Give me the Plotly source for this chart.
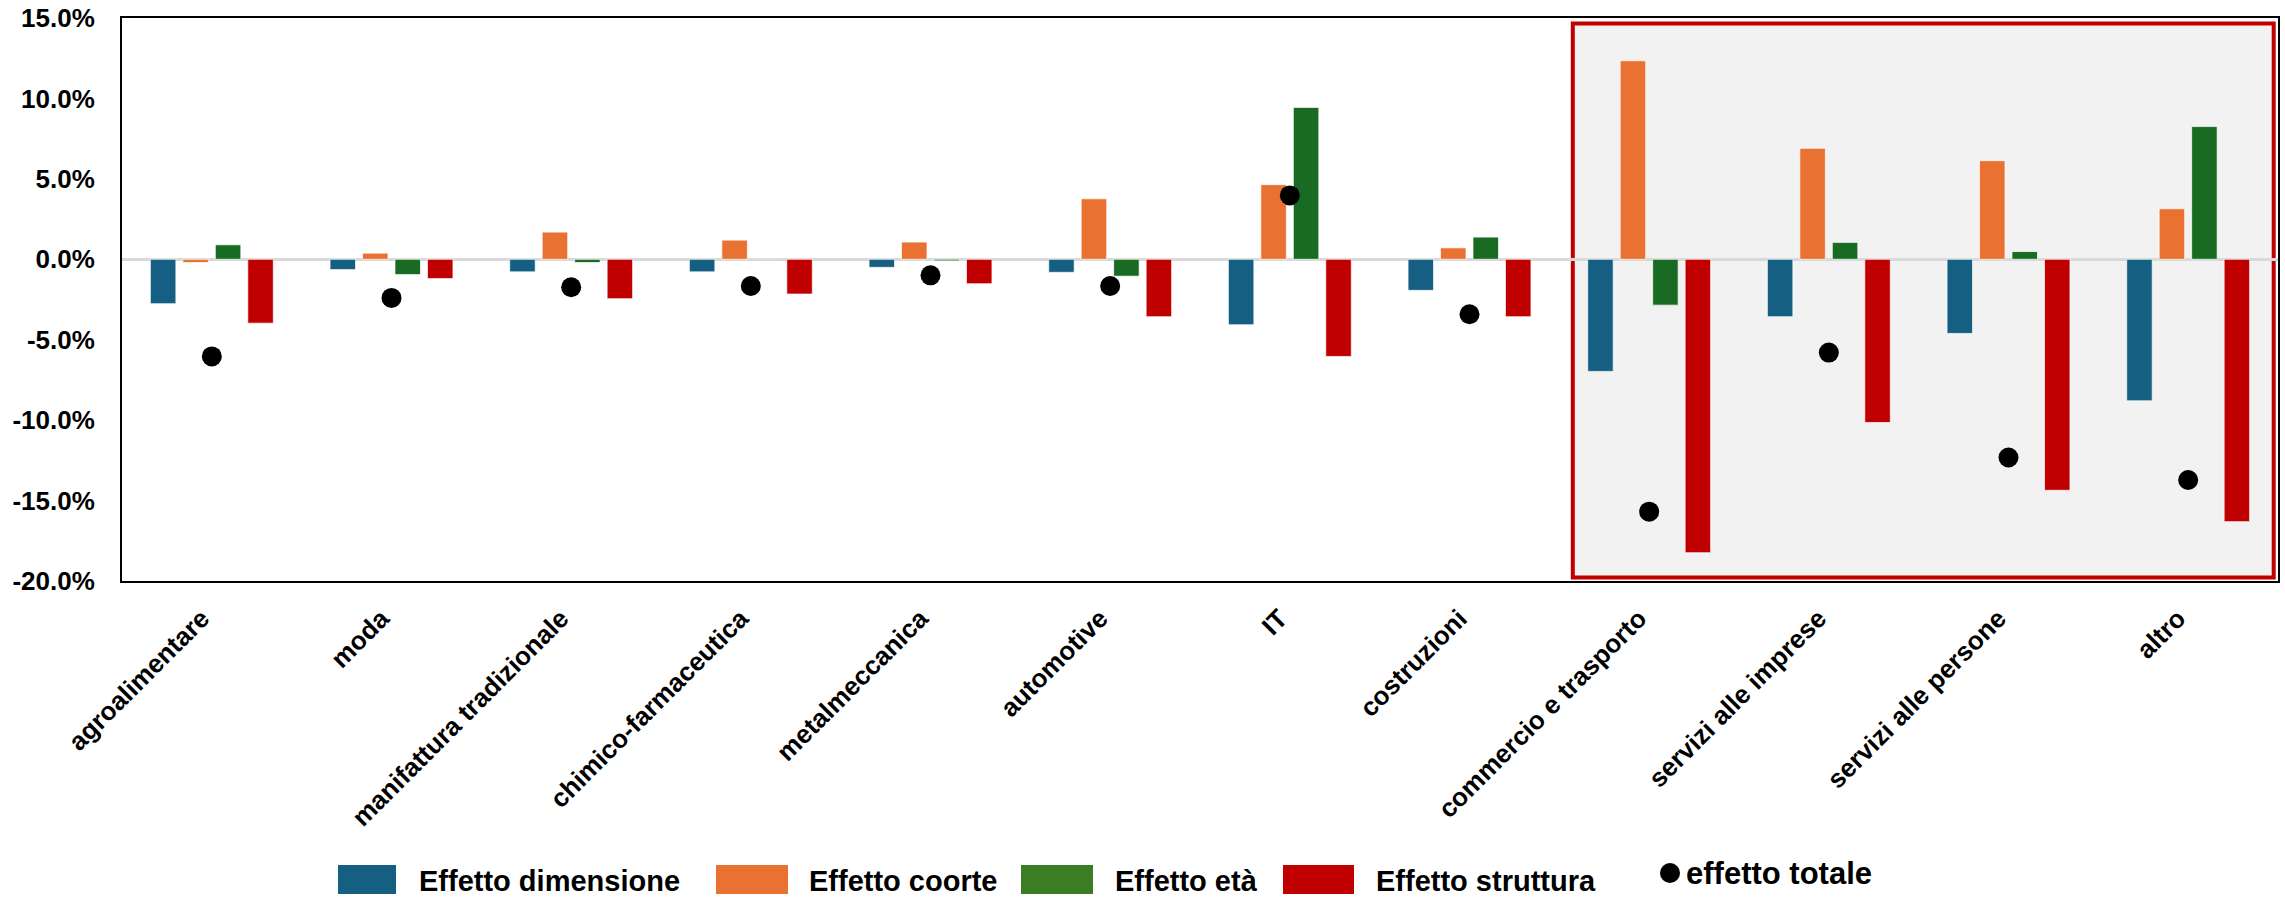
import plotly.graph_objects as go

categories = ["agroalimentare", "moda", "manifattura tradizionale", "chimico-farmaceutica",
              "metalmeccanica", "automotive", "IT", "costruzioni", "commercio e trasporto",
              "servizi alle imprese", "servizi alle persone", "altro"]
effetto_dimensione = [-2.76, -0.64, -0.78, -0.78, -0.50, -0.81, -4.07, -1.93, -6.97, -3.57, -4.61, -8.80]
effetto_coorte = [-0.20, 0.38, 1.69, 1.19, 1.07, 3.76, 4.64, 0.71, 12.34, 6.90, 6.13, 3.14]
effetto_eta = [0.90, -0.95, -0.20, 0.05, -0.10, -1.05, 9.44, 1.38, -2.85, 1.05, 0.48, 8.25]
effetto_struttura = [-3.97, -1.20, -2.45, -2.16, -1.52, -3.57, -6.04, -3.57, -18.24, -10.15, -14.36, -16.31]
effetto_totale = [-6.04, -2.40, -1.74, -1.66, -1.00, -1.66, 3.97, -3.42, -15.69, -5.80, -12.32, -13.72]
y_tickvals = [-20, -15, -10, -5, 0, 5, 10, 15]
y_ticktext = [f"{v:.1f}%" for v in y_tickvals]

series_names = ["Effetto dimensione", "Effetto coorte", "Effetto età", "Effetto struttura"]
series_values = [effetto_dimensione, effetto_coorte, effetto_eta, effetto_struttura]
bar_colors = ["#156082", "#E97132", "#196B24", "#C00000"]
legend_colors = ["#156082", "#E97132", "#3A7D22", "#C00000"]
total_name = "effetto totale"

# page body margin is zeroed by the post script, so figure pixels = page pixels
W, H = 2285, 900
PLOT_L, PLOT_R, PLOT_T, PLOT_B = 122, 2278, 17.5, 581.5
L, T, R, B = PLOT_L, PLOT_T, W - PLOT_R, H - PLOT_B
PW, PH = PLOT_R - PLOT_L, PLOT_B - PLOT_T
FONT = "Liberation Sans, Arial, sans-serif"


def px_x(p):
    return (p - PLOT_L) / PW


def px_y(p):
    return (PLOT_B - p) / PH


fig = go.Figure()
for name, vals, col in zip(series_names, series_values, bar_colors):
    fig.add_trace(go.Bar(x=categories, y=vals, name=name, marker_color=col,
                         marker_line=dict(color="rgba(255,255,255,0.7)", width=1),
                         showlegend=False))
fig.add_trace(go.Scatter(x=categories, y=effetto_totale, name=total_name, mode="markers",
                         marker=dict(color="black", size=20), showlegend=False))

shapes = [
    dict(type="rect", xref="x", yref="paper", x0=7.575, x1=11.476,
         y0=px_y(578), y1=px_y(23), fillcolor="#F2F2F2",
         line=dict(color="#C00000", width=4), layer="below"),
]

# custom legend (page pixel positions)
legend_boxes = [(338, 396), (716, 788), (1021, 1093), (1283, 1354)]
legend_text_x = [417, 807, 1113, 1374]
annotations = []
for (x0, x1), tx, name, col in zip(legend_boxes, legend_text_x, series_names, legend_colors):
    shapes.append(dict(type="rect", xref="paper", yref="paper",
                       x0=px_x(x0), x1=px_x(x1), y0=px_y(895), y1=px_y(866),
                       fillcolor=col, line=dict(width=0)))
    annotations.append(dict(xref="paper", yref="paper", x=px_x(tx), y=px_y(882),
                            text=f"<b>{name}</b>", showarrow=False, xanchor="left",
                            yanchor="middle", font=dict(family=FONT, size=29, color="black")))
shapes.append(dict(type="circle", xref="paper", yref="paper",
                   x0=px_x(1660), x1=px_x(1680), y0=px_y(884), y1=px_y(864),
                   fillcolor="black", line=dict(width=0)))
annotations.append(dict(xref="paper", yref="paper", x=px_x(1684), y=px_y(875),
                        text=f"<b>{total_name}</b>", showarrow=False, xanchor="left",
                        yanchor="middle", font=dict(family=FONT, size=31, color="black")))

fig.update_layout(
    width=W, height=H,
    margin=dict(l=L, r=R, t=T, b=B, autoexpand=False),
    paper_bgcolor="white", plot_bgcolor="white",
    barmode="group", bargap=0.277, bargroupgap=0.215,
    shapes=shapes, annotations=annotations,
    font=dict(family=FONT, color="black"),
    showlegend=False,
)
fig.update_xaxes(
    type="category", range=[-0.5, 11.5], tickangle=-45,
    tickfont=dict(family=FONT, size=26, color="black", weight="bold"),
    showline=True, linecolor="black", linewidth=2, mirror=True,
    showgrid=False, ticks="", ticklabelstandoff=10, ticklabelshift=-10, automargin=False,
)
fig.update_yaxes(
    range=[-20, 15], tickvals=y_tickvals, ticktext=y_ticktext,
    tickfont=dict(family=FONT, size=26, color="black", weight="bold"),
    showline=True, linecolor="black", linewidth=2, mirror=True,
    showgrid=False, zeroline=True, zerolinecolor="#D9D9D9", zerolinewidth=2.5,
    ticks="", ticklabelstandoff=20, ticklabeloverflow="allow", automargin=False,
)

fig.write_html("out.html", config={"displayModeBar": False},
               post_script="document.body.style.margin='0';")
